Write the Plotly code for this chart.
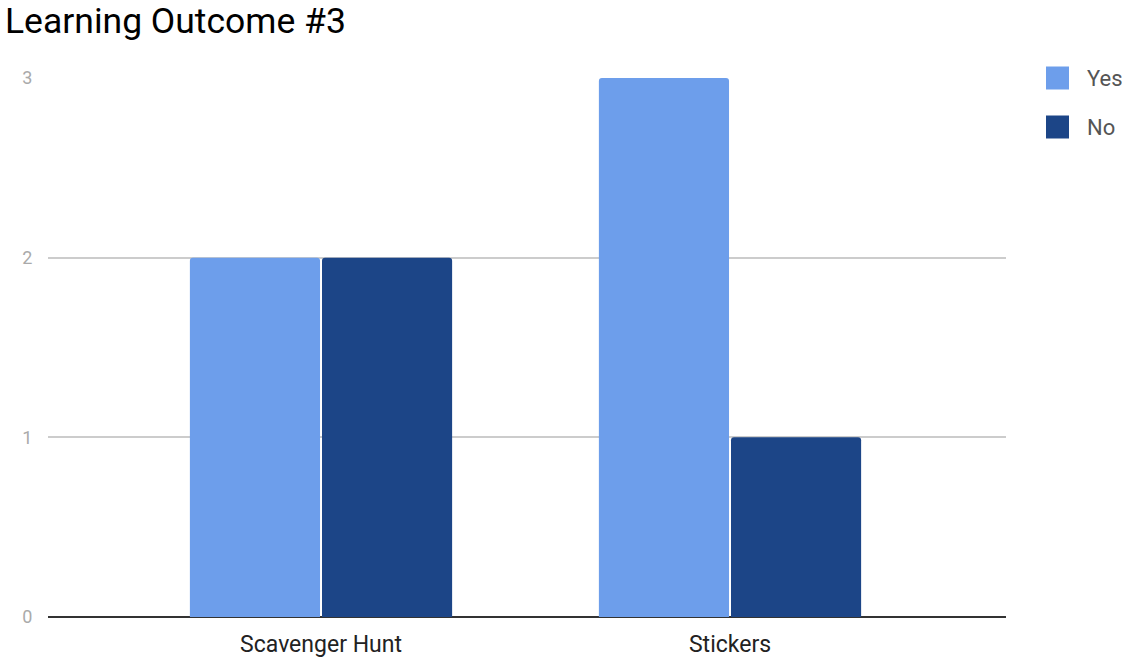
import plotly.graph_objects as go

categories = ["Scavenger Hunt", "Stickers"]
yes_values = [2, 3]
no_values = [2, 1]
series_names = ["Yes", "No"]
colors = ["#6d9eeb", "#1c4587"]
y_ticks = [0, 1, 2, 3]

fig = go.Figure()
for name, vals, col in zip(series_names, [yes_values, no_values], colors):
    fig.add_trace(go.Bar(
        x=categories, y=vals, name=name,
        marker=dict(color=col, line=dict(width=0), cornerradius=3),
        showlegend=False,
    ))

W, H = 1122, 657
L, R, T, B = 48, 1006, 78, 617

fig.update_layout(
    width=W, height=H,
    margin=dict(l=L, r=W - R, t=T, b=H - B, pad=0, autoexpand=False),
    paper_bgcolor="white", plot_bgcolor="white",
    barmode="group",
    bargap=0.354,
    bargroupgap=0.015,
    font=dict(family="Roboto", color="#222222"),
    title=dict(text="Learning Outcome #3", x=5 / W, xanchor="left",
               y=1 - 21 / H, yanchor="middle",
               font=dict(family="Roboto", size=35.5, color="#000000")),
    xaxis=dict(
        type="category",
        range=[-0.6675, 1.6748],
        showgrid=False, zeroline=False, showline=False,
        automargin=False,
        ticks="outside", ticklen=6, tickcolor="rgba(0,0,0,0)",
        tickfont=dict(family="Roboto", size=23, color="#222222"),
        fixedrange=True,
    ),
    yaxis=dict(
        range=[0, 3.0001],
        tickvals=y_ticks,
        automargin=False,
        showgrid=True, gridcolor="#cccccc", gridwidth=1.5,
        zeroline=True, zerolinecolor="#333333", zerolinewidth=1.5,
        showline=False,
        ticks="outside", ticklen=11, tickcolor="rgba(0,0,0,0)",
        tickfont=dict(family="Roboto", size=18, color="#aaaaaa"),
    ),
)

# manual legend
leg_y = [78, 127]
for name, col, yc in zip(series_names, colors, leg_y):
    fig.add_shape(type="rect", xref="paper", yref="paper",
                  x0=(1046 - L) / (R - L), x1=(1069 - L) / (R - L),
                  y0=(B - (yc + 11.5)) / (B - T), y1=(B - (yc - 11.5)) / (B - T),
                  fillcolor=col, line=dict(width=0), layer="above")
    fig.add_annotation(xref="paper", yref="paper",
                       x=(1085 - L) / (R - L), y=(B - yc) / (B - T),
                       text=name, showarrow=False, xanchor="left", yanchor="middle",
                       font=dict(family="Roboto", size=22, color="#555555"))

fig.write_html("out.html")
